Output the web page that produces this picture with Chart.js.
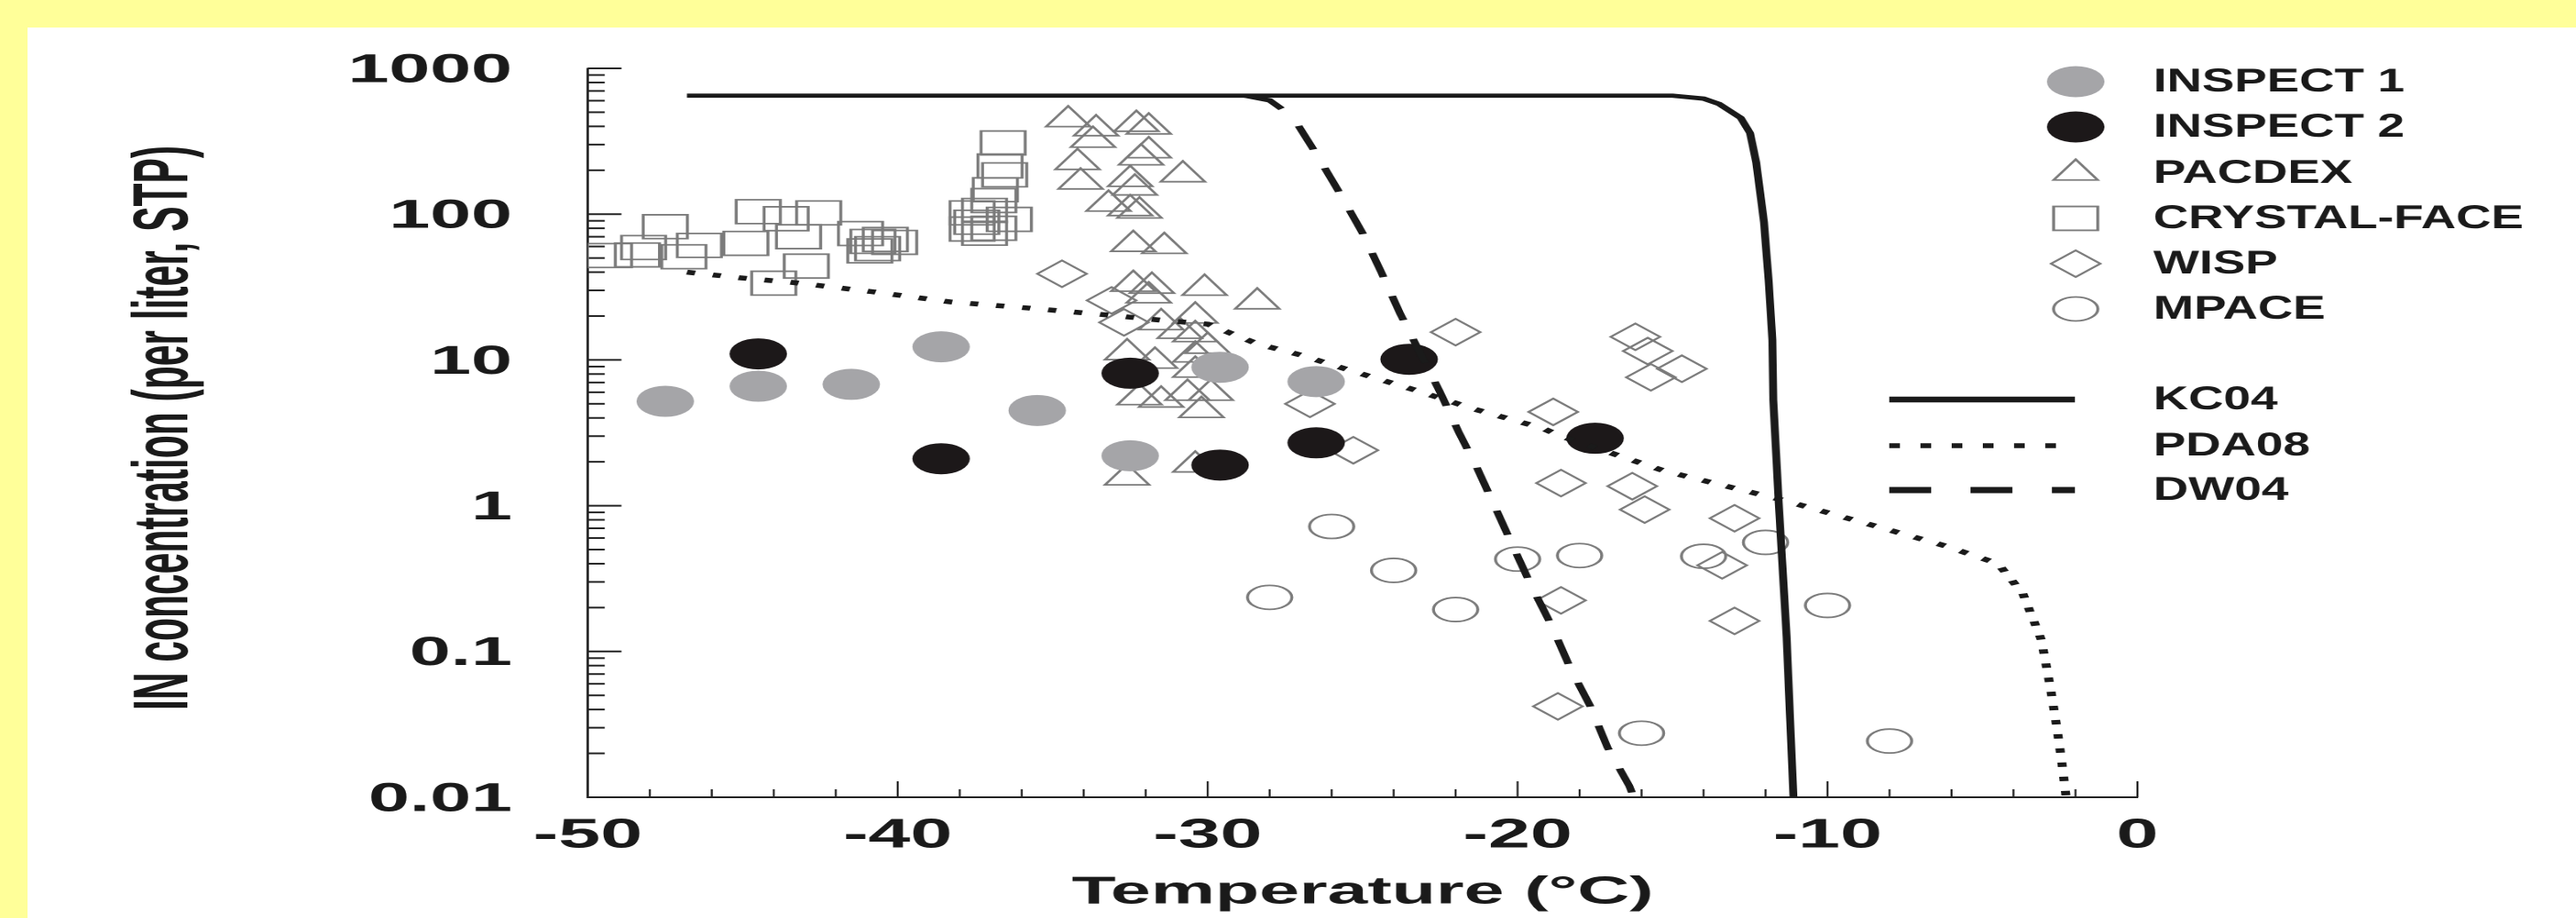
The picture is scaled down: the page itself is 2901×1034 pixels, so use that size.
<!DOCTYPE html>
<html>
<head>
<meta charset="utf-8">
<title>IN concentration vs temperature</title>
<script src="https://cdn.jsdelivr.net/npm/chart.js@4.4.1/dist/chart.umd.min.js"></script>
<style>
  html, body { margin: 0; padding: 0; }
  body { width: 2901px; height: 1034px; background: #ffff99; position: relative; overflow: hidden; }
  #panel { position: absolute; left: 31px; top: 31px; right: 0; bottom: 0; background: #fff; }
  /* the source figure is stretched sideways, so the chart is drawn narrow and stretched the same way */
  #chart { position: absolute; left: 0; top: 0; transform-origin: 0 0; transform: scaleX(1.85006); }
</style>
</head>
<body>
<div id="panel"></div>
<canvas id="chart" width="1568" height="1034"></canvas>
<script>
// horizontal stretch of the whole figure
const S = 2901 / 1568;

// axis ticks
const xTickValues = [-50, -40, -30, -20, -10, 0];
const xTickLabels = ['-50', '-40', '-30', '-20', '-10', '0'];
const yTickValues = [0.01, 0.1, 1, 10, 100, 1000];
const yTickLabels = ['0.01', '0.1', '1', '10', '100', '1000'];

// measurements: temperature (C) and IN concentration (per liter, STP)
const inspect1T = [-47.5, -44.5, -41.5, -38.6, -35.5, -32.5, -29.6, -26.5];
const inspect1N = [5.2, 6.6, 6.8, 12.3, 4.5, 2.2, 8.9, 7.1];

const inspect2T = [-44.5, -38.6, -32.5, -29.6, -26.5, -23.5, -17.5];
const inspect2N = [11.0, 2.1, 8.1, 1.9, 2.7, 10.1, 2.9];

const pacdexT = [-34.5, -33.6, -32.3, -31.9, -33.7, -34.2, -31.9, -32.15, -34.1, -30.8,
                 -32.5, -33.2, -32.35, -32.5, -32.2, -32.4, -31.4, -32.4, -31.8, -30.1,
                 -28.4, -31.9, -31.5, -30.4, -30.9, -30.4, -32.6, -31.7, -30.4, -30.0,
                 -32.2, -31.5, -30.65, -29.9, -30.2, -30.4, -32.6, -30.4];
const pacdexN = [444, 385, 413, 396, 321, 226, 272, 243, 166, 186,
                 173, 117, 151, 109, 105, 62, 60, 33, 32, 31,
                 25, 27.5, 18, 20, 15.7, 14.9, 11.2, 9.8, 10.8, 12.4,
                 5.5, 5.3, 5.9, 5.9, 4.5, 8.5, 1.55, 1.9];

const crystalT = [-49.3, -48.4, -48.2, -47.5, -46.9, -46.4, -44.9, -44.5, -43.6, -42.55,
                  -43.2, -42.95, -44.0, -41.2, -40.8, -40.4, -40.1, -40.65, -40.9, -36.6,
                  -36.7, -36.55, -36.85, -36.9, -37.2, -37.6, -37.45, -37.2, -36.4, -36.9, -37.6];
const crystalN = [52, 52.5, 59, 82, 51, 61, 63, 104, 93, 102,
                  70, 44, 33.6, 73.6, 65, 67, 64, 58, 56, 308,
                  214, 186, 147, 124, 106, 102, 88, 74, 92, 80, 79];

const wispT = [-34.7, -33.1, -32.7, -26.7, -22.0, -25.3, -18.85, -18.6, -16.2, -15.8,
               -15.7, -14.7, -16.3, -15.9, -13.0, -13.4, -18.6, -13.0, -18.7];
const wispN = [39, 25.6, 18.1, 5.0, 15.5, 2.4, 4.4, 1.43, 14.4, 11.5,
               7.6, 8.7, 1.36, 0.94, 0.82, 0.39, 0.224, 0.162, 0.042];

const mpaceT = [-26.0, -24.0, -28.0, -22.0, -20.0, -18.0, -14.0, -12.0, -10.0, -16.0, -8.0];
const mpaceN = [0.72, 0.36, 0.235, 0.194, 0.43, 0.455, 0.45, 0.56, 0.207, 0.0275, 0.0243];

// parameterisations
const kc04T = [-46.8, -15.0, -14.0, -13.5, -12.8, -12.5, -12.3, -12.05, -11.9, -11.78, -11.75, -11.58, -11.32, -11.1];
const kc04N = [650, 650, 620, 570, 457, 360, 226, 88, 35, 13.7, 5.3, 1.1, 0.126, 0.01];

const pda08T = [-46.8, -45.1, -43.4, -40.9, -38.3, -35.8, -33.2, -31.7, -30.0, -28.4,
                -27.0, -25.1, -23.3, -21.4, -19.2, -18.6, -15.3, -11.5, -8.7, -6.2,
                -4.5, -3.7, -3.1, -2.8, -2.6, -2.45, -2.3];
const pda08N = [40, 36.6, 34, 29.5, 25, 22.7, 20.3, 18.9, 17.6, 12.9,
                10.8, 8.1, 6.2, 4.6, 3.4, 3.0, 1.74, 1.1, 0.75, 0.53,
                0.4, 0.25, 0.12, 0.055, 0.03, 0.018, 0.01];

const dw04T = [-28.8, -28.0, -27.4, -27.1, -26.5, -25.7, -25.0, -24.4, -23.8, -22.5,
               -21.9, -21.3, -20.7, -20.1, -19.55, -18.9, -18.3, -17.65, -17.1, -16.4, -16.25];
const dw04N = [650, 603, 490, 413, 260, 135, 74, 40, 21, 6,
               3.2, 1.8, 0.95, 0.5, 0.28, 0.15, 0.077, 0.042, 0.022, 0.012, 0.01];

const yTitle = 'IN concentration (per liter, STP)';
const xTitle = 'Temperature (\u00B0C)';

function pairs(xs, ys) {
    return xs.map(function(x, i){ return {x: x, y: ys[i]}; });
}

const grey = '#7b7b7b';
const ink = '#1a1a1a';

const datasets = [
    {label: 'INSPECT 1', data: pairs(inspect1T, inspect1N), pointStyle: 'circle', pointRadius: 17.5,
     backgroundColor: '#a5a5a8', borderColor: '#a5a5a8', borderWidth: 0, order: 2},
    {label: 'INSPECT 2', data: pairs(inspect2T, inspect2N), pointStyle: 'circle', pointRadius: 17.5,
     backgroundColor: '#1c1819', borderColor: '#1c1819', borderWidth: 0, order: 1},
    {label: 'PACDEX', data: pairs(pacdexT, pacdexN), pointStyle: 'triangle', pointRadius: 15.5,
     backgroundColor: 'rgba(0,0,0,0)', borderColor: grey, borderWidth: 1.8, order: 5},
    {label: 'CRYSTAL-FACE', data: pairs(crystalT, crystalN), pointStyle: 'rect', pointRadius: 19,
     backgroundColor: 'rgba(0,0,0,0)', borderColor: grey, borderWidth: 1.8, order: 6},
    {label: 'WISP', data: pairs(wispT, wispN), pointStyle: 'rectRot', pointRadius: 15,
     backgroundColor: 'rgba(0,0,0,0)', borderColor: grey, borderWidth: 1.8, order: 4},
    {label: 'MPACE', data: pairs(mpaceT, mpaceN), pointStyle: 'circle', pointRadius: 13.5,
     backgroundColor: 'rgba(0,0,0,0)', borderColor: grey, borderWidth: 1.8, order: 3},
    {label: 'KC04', data: pairs(kc04T, kc04N), showLine: true, pointRadius: 0, borderColor: ink,
     borderWidth: 4.8, tension: 0, order: 0, legendWidth: 6.5, legendDash: []},
    {label: 'PDA08', data: pairs(pda08T, pda08N), showLine: true, pointRadius: 0, borderColor: ink,
     borderWidth: 5.5, borderDash: [5, 11], tension: 0, order: 0, legendWidth: 5.5, legendDash: [6.5, 12.5]},
    {label: 'DW04', data: pairs(dw04T, dw04N), showLine: true, pointRadius: 0, borderColor: ink,
     borderWidth: 4.8, borderDash: [28, 22], tension: 0, order: 0, legendWidth: 7, legendDash: [25.5, 24]}
];

// inward ticks, rotated y title and the two-part legend
const decor = {
    id: 'decor',
    beforeDatasetsDraw(chart) {
        const ctx = chart.ctx;
        const xs = chart.scales.x, ys = chart.scales.y;
        const area = chart.chartArea;
        ctx.save();
        ctx.strokeStyle = '#222';
        ctx.lineWidth = 1.2;
        for (let t = -50; t <= 0; t += 2) {
            const px = xs.getPixelForValue(t);
            const len = t % 10 === 0 ? 18 : 9;
            ctx.beginPath();
            ctx.moveTo(px, area.bottom);
            ctx.lineTo(px, area.bottom - len);
            ctx.stroke();
        }
        ctx.lineWidth = 2;
        for (let d = -2; d <= 3; d++) {
            for (let m = 1; m <= 9; m++) {
                const v = m * Math.pow(10, d);
                if (v > 1000) break;
                const py = ys.getPixelForValue(v);
                const len = m === 1 ? 20.5 : 10.3;
                ctx.beginPath();
                ctx.moveTo(area.left, py);
                ctx.lineTo(area.left + len, py);
                ctx.stroke();
            }
        }
        ctx.restore();
    },
    afterDraw(chart) {
        const ctx = chart.ctx;
        // y axis title, narrow lettering
        ctx.save();
        ctx.translate(114, 482);
        ctx.rotate(-Math.PI / 2);
        ctx.font = 'bold 47px "Liberation Sans"';
        const w = ctx.measureText(yTitle).width;
        ctx.scale(636 / w, 1);
        ctx.fillStyle = ink;
        ctx.textAlign = 'center';
        ctx.textBaseline = 'alphabetic';
        ctx.fillText(yTitle, 0, 0);
        ctx.restore();

        // legend
        const markX = 1263.5, textX = 1310.8;
        const markRows = [92, 143, 195, 246, 297, 348];
        const lineRows = [450, 502, 552];
        const lineX0 = 1150, lineX1 = 1263;
        let mi = 0, li = 0;
        chart.data.datasets.forEach(function(ds) {
            let y;
            ctx.save();
            if (ds.showLine) {
                y = lineRows[li++];
                ctx.strokeStyle = ds.borderColor;
                ctx.lineWidth = ds.legendWidth;
                ctx.setLineDash(ds.legendDash);
                ctx.beginPath();
                ctx.moveTo(lineX0, y);
                ctx.lineTo(lineX1, y);
                ctx.stroke();
            } else {
                y = markRows[mi++];
                ctx.fillStyle = ds.backgroundColor;
                ctx.strokeStyle = ds.borderColor;
                ctx.lineWidth = ds.borderWidth;
                Chart.helpers.drawPoint(ctx, {pointStyle: ds.pointStyle, radius: ds.pointRadius,
                    borderWidth: ds.borderWidth, rotation: 0}, markX, y);
            }
            ctx.restore();
            ctx.save();
            ctx.translate(textX, y);
            ctx.scale(0.8, 1);
            ctx.font = 'bold 37px "Liberation Sans"';
            ctx.fillStyle = ink;
            ctx.textAlign = 'left';
            ctx.textBaseline = 'middle';
            ctx.fillText(ds.label, 0, 1);
            ctx.restore();
        });
    }
};

Chart.defaults.font.family = '"Liberation Sans", Arial, sans-serif';
Chart.defaults.color = ink;

const ctx = document.getElementById('chart');
const myChart = new Chart(ctx, {
    type: 'scatter',
    data: {datasets: datasets},
    options: {
        responsive: false,
        devicePixelRatio: 2,
        animation: false,
        events: [],
        layout: {padding: {left: 0, right: 1568 - 1301.1, top: 77, bottom: 0}},
        plugins: {legend: {display: false}, tooltip: {enabled: false}},
        scales: {
            x: {
                type: 'linear',
                min: -50,
                max: 0,
                afterFit: function(scale){ scale.height = 136; },
                afterBuildTicks: function(scale){ scale.ticks = xTickValues.map(function(v){ return {value: v}; }); },
                grid: {display: true, drawOnChartArea: false, drawTicks: false},
                border: {display: true, color: '#222', width: 2},
                ticks: {
                    autoSkip: false,
                    maxRotation: 0,
                    padding: 16,
                    color: ink,
                    font: {size: 46, weight: 'bold'},
                    callback: function(v){ const i = xTickValues.indexOf(v); return i >= 0 ? xTickLabels[i] : ''; }
                },
                title: {display: true, text: xTitle, color: ink, font: {size: 44, weight: 'bold'}, padding: {top: 0, bottom: 2}}
            },
            y: {
                type: 'logarithmic',
                min: 0.01,
                max: 1000,
                afterFit: function(scale){ scale.width = 357.8; },
                afterBuildTicks: function(scale){ scale.ticks = yTickValues.map(function(v){ return {value: v}; }); },
                grid: {display: true, drawOnChartArea: false, drawTicks: false},
                border: {display: true, color: '#222', width: 1.5},
                ticks: {
                    autoSkip: false,
                    padding: 46,
                    labelOffset: 3,
                    color: ink,
                    font: {size: 45, weight: 'bold'},
                    callback: function(v){ const i = yTickValues.indexOf(v); return i >= 0 ? yTickLabels[i] : ''; }
                }
            }
        }
    },
    plugins: [decor]
});
</script>
</body>
</html>
